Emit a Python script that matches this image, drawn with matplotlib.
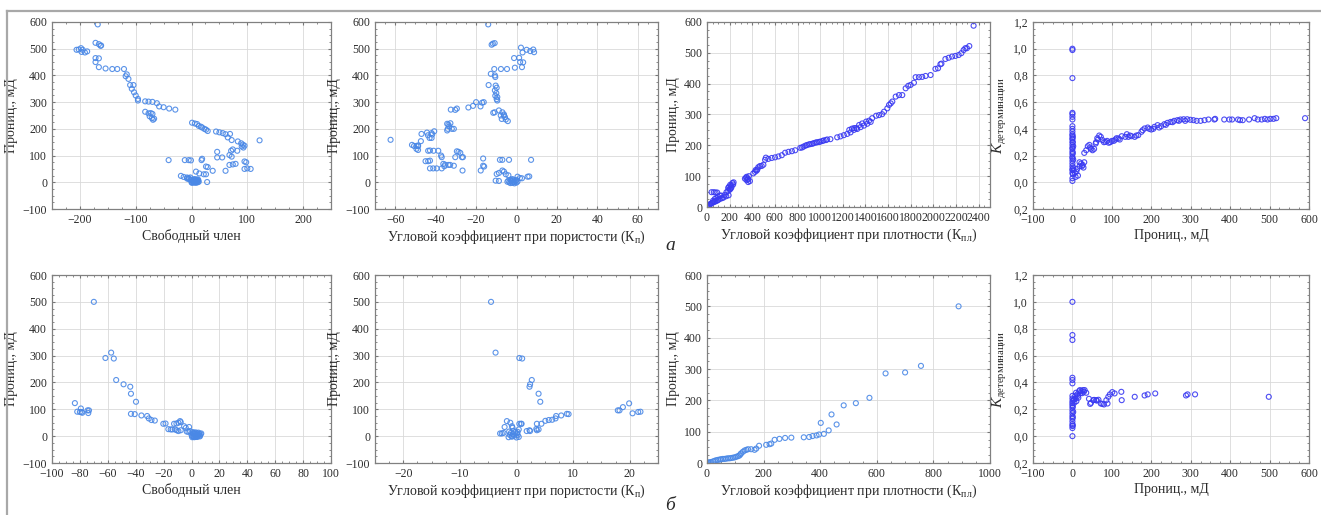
import numpy as np
import matplotlib
matplotlib.use('Agg')
import matplotlib.pyplot as plt
from matplotlib.lines import Line2D
from matplotlib.ticker import MultipleLocator, AutoMinorLocator, FuncFormatter

plt.rcParams['font.family'] = ['Liberation Serif', 'DejaVu Serif']
plt.rcParams['mathtext.fontset'] = 'custom'
plt.rcParams['mathtext.rm'] = 'Liberation Serif'
plt.rcParams['mathtext.it'] = 'Liberation Serif:italic'

# ---- data, row "а" ----
a1_pts = [(-168, 591), (-206, 496), (-198, 502), (-197, 488), (-202, 497), (-191, 486), (-187, 490),
          (-195, 496), (-172, 522), (-166, 517), (-162, 512), (-163, 511), (-172, 465), (-166, 464),
          (-172, 450), (-166, 431), (-154, 426), (-142, 424), (-133, 424), (-121, 424), (-116, 404),
          (-118, 397), (-113, 387), (-110, 364), (-104, 364), (-107, 350), (-103, 337), (-100, 325),
          (-96, 312), (-96, 306), (-83, 303), (-77, 302), (-70, 301), (-62, 296), (-58, 284), (-50, 281),
          (-40, 276), (-29, 272), (-83, 264), (-77, 258), (-73, 259), (-70, 256), (-75, 247), (-71, 240),
          (-69, 234), (-67, 238), (-41, 83), (-12, 83), (-5, 83), (-1, 82), (-19, 24), (-14, 20), (-8, 18),
          (-5, 16), (-2, 18), (1, 223), (6, 220), (10, 218), (13, 211), (17, 208), (19, 205), (23, 200),
          (26, 197), (29, 192), (44, 190), (50, 187), (56, 184), (61, 180), (65, 168), (69, 181), (72, 158),
          (83, 153), (89, 146), (92, 141), (95, 137), (122, 157), (46, 114), (46, 93), (55, 93), (68, 102),
          (72, 96), (82, 118), (71, 118), (74, 123), (95, 78), (98, 75), (100, 52), (95, 50), (106, 50),
          (19, 88), (18, 83), (26, 59), (29, 57), (38, 43), (61, 43), (68, 65), (74, 67), (79, 69), (8, 40),
          (14, 33), (22, 30), (26, 30), (28, 1), (0, 0), (1, -2), (2, 1), (3, 3), (4, -1), (5, 2), (6, 0),
          (7, 4), (8, -2), (9, 1), (10, 3), (11, 0), (12, 6), (13, 2), (2, 8), (4, 6), (6, 9), (8, 5),
          (10, 7), (12, 10), (5, 12), (9, 11), (-2, 10), (-5, 12), (-8, 14), (90, 134), (93, 130)]

a2_pts = [(-14, 591), (-12.3, 515), (-11.7, 519), (-10.8, 521), (2.2, 504), (5, 496), (6.8, 491),
          (8.3, 497), (8.7, 487), (3, 486), (-1.2, 465), (1.3, 466), (1.8, 450), (3.3, 449), (2.7, 431),
          (-0.8, 429), (-11, 424), (-7.7, 424), (-4.7, 424), (-12.7, 406), (-10.7, 400), (-10.5, 394),
          (-13.8, 364), (-10.3, 362), (-9.8, 354), (-10.7, 344), (-10, 334), (-10.5, 324), (-9.5, 319),
          (-9.8, 311), (-9.5, 306), (-11.5, 260), (-10.8, 262), (-8.7, 269), (-7, 262), (-7.8, 250),
          (-6.2, 250), (-7.3, 237), (-5.3, 235), (-6.2, 254), (-5.7, 244), (-4.3, 229), (-17.8, 284),
          (-16.2, 300), (-17, 298), (-20, 300), (-21.5, 286), (-23.8, 280), (-29.5, 276), (-30.3, 271),
          (-32.5, 272), (-34.3, 219), (-33.7, 216), (-34, 200), (-34.3, 194), (-32, 200), (-33.3, 209),
          (-31, 200), (-32.7, 221), (-44.3, 186), (-43.8, 176), (-43, 166), (-42, 166), (-40.7, 191),
          (-42, 184), (-41.7, 179), (-47, 181), (-48.7, 138), (-51.7, 140), (-50.7, 136), (-49.5, 136),
          (-48.7, 135), (-49.5, 125), (-48.7, 121), (-47.3, 154), (-62.3, 159), (-43.7, 118), (-42.8, 119),
          (-41, 118), (-38.7, 118), (-37.3, 100), (-37, 94), (-36.2, 69), (-35.3, 66), (-30.3, 94),
          (-29.5, 116), (-28.7, 114), (-27.8, 110), (-27, 94), (-26.5, 94), (-45, 79), (-43.7, 79),
          (-42.8, 81), (-42.8, 52), (-41.2, 52), (-39.5, 52), (-37, 52), (-35.7, 60), (-33.7, 65),
          (-32.8, 65), (-31, 62), (-26.7, 44), (-16.5, 89), (-16.5, 62), (-16, 59), (-17.7, 44),
          (-8.2, 84), (-7, 84), (-3.7, 84), (7.2, 84), (-10.3, 6), (-8.7, 5), (-9.8, 31), (-8.7, 35),
          (-7, 44), (-6.2, 40), (-5.3, 30), (-4, 26), (0.5, 21), (1.7, 16), (2.7, 15), (5.5, 21),
          (6.3, 22), (-4.5, 2), (-4, 6), (-3.5, 0), (-3, 10), (-2.5, 4), (-2, -2), (-1.5, 8), (-1, 1),
          (-0.5, 5), (0, -1), (0.5, 3), (-3, -3), (-2, 12), (-1, -4), (0, 9), (-2.5, 7), (-1.5, 2)]

a3_pts = [(0, 0), (5, 2), (10, 3), (15, 5), (20, 7), (29, 9), (35, 11), (44, 13), (55, 15), (65, 17),
          (74, 18), (85, 20), (95, 22), (103, 24), (120, 27), (135, 29), (147, 31), (170, 35), (191, 38),
          (40, 48), (60, 48), (75, 47), (90, 47), (53, 20), (68, 26), (83, 29), (98, 33), (113, 37),
          (127, 37), (157, 39), (172, 48), (187, 53), (201, 59), (216, 64), (231, 73), (216, 70),
          (201, 56), (187, 62), (195, 66), (205, 72), (225, 78), (235, 80), (210, 60), (335, 92),
          (350, 87), (364, 81), (379, 84), (350, 98), (364, 89), (345, 95), (370, 100), (360, 92),
          (409, 109), (424, 114), (439, 118), (453, 129), (468, 133), (483, 133), (498, 137), (430, 120),
          (445, 122), (513, 153), (520, 160), (542, 156), (572, 159), (601, 161), (631, 164), (661, 168),
          (690, 176), (720, 179), (750, 181), (779, 184), (824, 192), (853, 196), (883, 201), (913, 204),
          (942, 207), (972, 210), (1001, 212), (1031, 216), (1061, 219), (1090, 220), (840, 193),
          (870, 199), (900, 203), (930, 205), (960, 209), (990, 211), (1020, 214), (1050, 217),
          (1150, 226), (1179, 229), (1209, 233), (1239, 237), (1268, 242), (1298, 250), (1327, 253),
          (1357, 259), (1387, 264), (1416, 270), (1446, 276), (1257, 250), (1280, 254), (1300, 256),
          (1318, 256), (1344, 266), (1371, 271), (1406, 277), (1432, 280), (1459, 288), (1494, 296),
          (1520, 298), (1547, 301), (1564, 309), (1593, 320), (1608, 331), (1623, 336), (1637, 342),
          (1667, 358), (1696, 363), (1725, 363), (1755, 385), (1778, 393), (1799, 396), (1828, 403),
          (1843, 421), (1872, 421), (1901, 422), (1931, 425), (1975, 428), (2018, 448), (2041, 450),
          (2062, 463), (2071, 465), (2106, 480), (2135, 484), (2165, 488), (2194, 490), (2223, 493),
          (2247, 499), (2267, 509), (2282, 515), (2296, 515), (2317, 522), (2355, 588)]

a4_pts = [(0, 1.0), (0, 0.99), (0, 0.78), (0, 0.52), (0, 0.51), (0, 0.49), (0, 0.47), (0, 0.42),
          (0, 0.40), (0, 0.38), (0, 0.36), (0, 0.35), (0, 0.33), (0, 0.32), (0, 0.30), (0, 0.28),
          (0, 0.26), (0, 0.25), (0, 0.23), (0, 0.21), (0, 0.19), (0, 0.18), (0, 0.16), (0, 0.14),
          (0, 0.12), (0, 0.10), (0, 0.09), (0, 0.07), (0, 0.03), (0, 0.01), (1, 0.34), (1, 0.30),
          (2, 0.27), (1, 0.22), (2, 0.17), (2, 0.11), (1, 0.06), (3, 0.09), (6, 0.07), (10, 0.08),
          (14, 0.05), (18, 0.12), (22, 0.14), (26, 0.13), (18, 0.15), (30, 0.15), (12, 0.10), (8, 0.04),
          (24, 0.12), (28, 0.11), (30, 0.22), (35, 0.24), (39, 0.27), (43, 0.28), (47, 0.25), (51, 0.24),
          (55, 0.25), (59, 0.29), (63, 0.33), (68, 0.35), (72, 0.34), (65, 0.32), (60, 0.30), (45, 0.26),
          (76, 0.316), (84, 0.303), (92, 0.296), (100, 0.31), (109, 0.32), (117, 0.328), (125, 0.345),
          (134, 0.34), (142, 0.34), (150, 0.345), (158, 0.34), (167, 0.353), (175, 0.378), (183, 0.403),
          (191, 0.41), (200, 0.395), (208, 0.415), (216, 0.428), (225, 0.42), (233, 0.435), (241, 0.445),
          (249, 0.452), (258, 0.46), (266, 0.465), (274, 0.47), (282, 0.472), (291, 0.472), (299, 0.468),
          (307, 0.465), (315, 0.46), (80, 0.30), (88, 0.31), (96, 0.30), (105, 0.31), (112, 0.33),
          (120, 0.32), (138, 0.36), (146, 0.35), (162, 0.35), (178, 0.39), (195, 0.40), (205, 0.40),
          (220, 0.41), (237, 0.43), (254, 0.45), (270, 0.46), (286, 0.46), (325, 0.46), (335, 0.465),
          (345, 0.47), (360, 0.47), (362, 0.475), (385, 0.47), (398, 0.47), (405, 0.47), (420, 0.47),
          (425, 0.465), (432, 0.465), (448, 0.47), (462, 0.48), (470, 0.47), (480, 0.47), (488, 0.475),
          (495, 0.47), (502, 0.475), (510, 0.475), (517, 0.48), (590, 0.48)]

# ---- data, row "б" ----
b1_pts = [(-70, 500), (-61.7, 291), (-57.6, 311), (-55.7, 289), (-54, 209), (-48.7, 193), (-43.9, 184),
          (-43.4, 158), (-39.8, 128), (-83.6, 123), (-81.9, 91), (-80, 90), (-78.8, 90), (-79.3, 103),
          (-78.3, 87), (-74.5, 96), (-74, 86), (-73.5, 96), (-43.4, 83), (-40.7, 82), (-35.9, 77),
          (-31.8, 75), (-30.6, 66), (-28.7, 60), (-26.3, 58), (-20.2, 46), (-18.6, 47), (-16.6, 26),
          (-14.9, 25), (-13.7, 25), (-11.8, 25), (-10.6, 22), (-9.4, 19), (-7.7, 22), (-12.5, 46),
          (-10.8, 47), (-9.4, 50), (-8.2, 56), (-7.7, 52), (-5.3, 37), (-4.1, 31), (-1.7, 34), (-1.2, 19),
          (-3.4, 17), (-2.2, 16), (0, 5), (0.5, 0), (1, 10), (1.5, -2), (2, 3), (2.5, 8), (3, -3),
          (3.5, 1), (4, 6), (4.5, -1), (5, 4), (5.5, 9), (6, 2), (6.5, 7), (7, 10), (1, 15), (2, 12),
          (3, 14), (4, 11), (5, 13), (0.5, -4), (2, -4), (4, -3), (6, -1)]

b2_pts = [(-4.5, 500), (-3.7, 311), (0.5, 291), (1.0, 289), (2.7, 209), (2.4, 193), (2.3, 184),
          (3.9, 158), (4.2, 128), (-1.7, 56), (-1.1, 50), (-2.1, 34), (-2.3, 12), (-2.6, 10), (-2.9, 10),
          (-0.8, 37), (-0.7, 31), (0.5, 46), (0.8, 46), (0.9, 46), (0.4, 25), (0.2, 16), (1.8, 19),
          (2.3, 22), (2.4, 19), (3.6, 22), (3.9, 25), (3.5, 27), (3.6, 46), (4.4, 46), (5.1, 57),
          (5.7, 60), (6.3, 61), (6.9, 66), (7.0, 75), (7.9, 77), (8.9, 83), (9.2, 82), (17.9, 96),
          (18.2, 96), (18.8, 108), (19.9, 122), (20.5, 85), (21.5, 90), (21.9, 91), (-1.4, -4),
          (-1.2, 5), (-1.0, 12), (-0.8, -2), (-0.6, 8), (-0.4, 2), (-0.2, 15), (0, -5), (0.2, 4),
          (0.4, -3), (-1.3, 17), (-0.5, 19), (-0.9, 0), (0.1, 10)]

b3_pts = [(0, 0), (3, 1), (6, 1), (9, 2), (14, 3), (21, 5), (27, 7), (33, 9), (39, 10), (45, 11),
          (50, 12), (56, 13), (62, 13), (68, 14), (74, 15), (80, 15), (86, 16), (92, 17), (98, 18),
          (104, 20), (110, 22), (115, 24), (118, 28), (121, 31), (127, 36), (133, 40), (139, 42),
          (145, 44), (156, 44), (168, 42), (174, 46), (184, 55), (209, 58), (221, 60), (227, 62),
          (239, 74), (256, 77), (276, 80), (298, 81), (342, 82), (361, 83), (373, 86), (387, 88),
          (396, 91), (413, 93), (430, 104), (402, 128), (440, 155), (458, 123), (483, 184), (526, 191),
          (574, 208), (631, 286), (700, 289), (756, 310), (889, 500)]

b4_pts = [(0, 1.0), (0, 0.753), (0, 0.716), (0, 0.435), (0, 0.418), (0, 0.393), (0, 0.30), (0, 0.28),
          (0, 0.26), (0, 0.245), (0, 0.23), (0, 0.21), (0, 0.19), (0, 0.17), (0, 0.15), (0, 0.13),
          (0, 0.11), (0, 0.09), (0, 0.075), (0, 0.06), (0, 0.0), (1, 0.08), (1, 0.22), (2, 0.27),
          (2, 0.18), (1, 0.14), (4, 0.273), (7, 0.298), (9, 0.323), (12, 0.311), (15, 0.286),
          (17, 0.335), (19, 0.343), (23, 0.335), (27, 0.343), (31, 0.343), (35, 0.323), (5, 0.25),
          (8, 0.28), (10, 0.26), (14, 0.30), (20, 0.32), (25, 0.32), (29, 0.33), (42, 0.278),
          (47, 0.248), (53, 0.268), (60, 0.268), (66, 0.271), (72, 0.243), (80, 0.236), (89, 0.243),
          (86, 0.268), (91, 0.293), (95, 0.311), (101, 0.328), (107, 0.318), (124, 0.33), (125, 0.268),
          (158, 0.293), (183, 0.303), (191, 0.311), (210, 0.318), (288, 0.303), (292, 0.311),
          (311, 0.311), (498, 0.293), (45, 0.24), (55, 0.27), (62, 0.265), (76, 0.24)]

perm_label = 'Прониц., мД'
k_label = r'$K_{\mathrm{детерминации}}$'
x_labels = ['Свободный член',
            'Угловой коэффициент при пористости (К$_{\\mathrm{п}}$)',
            'Угловой коэффициент при плотности (К$_{\\mathrm{пл}}$)',
            perm_label]

W, H = 1321, 515
fig = plt.figure(figsize=(W / 100, H / 100), dpi=100)

light = '#4a88e6'
deep = '#3a3af2'
txt = '#2b2b2b'


def make_ax(l, t, r, b):
    return fig.add_axes([l / W, 1 - b / H, (r - l) / W, (b - t) / H])


def style(ax, xlim, ylim, xstep, ystep, xlabel, ylabel, kfmt=False):
    ax.set_xlim(*xlim)
    ax.set_ylim(*ylim)
    ax.xaxis.set_major_locator(MultipleLocator(xstep))
    ax.yaxis.set_major_locator(MultipleLocator(ystep))
    ax.xaxis.set_minor_locator(AutoMinorLocator(4))
    ax.yaxis.set_minor_locator(AutoMinorLocator(4))
    ax.grid(True, which='major', color='#d9d9d9', lw=0.6)
    ax.set_axisbelow(True)
    ax.tick_params(which='both', direction='in', top=True, right=True, colors='#777777',
                   labelcolor=txt, labelsize=8.5)
    ax.tick_params(which='major', length=2.5)
    ax.tick_params(which='minor', length=1.5)
    for s in ax.spines.values():
        s.set_color('#808080')
        s.set_linewidth(0.9)
    ax.set_xlabel(xlabel, fontsize=10, color=txt, labelpad=2)
    if kfmt:
        ax.yaxis.set_major_formatter(FuncFormatter(lambda v, p: f'{abs(v):.1f}'.replace('.', ',')))
        ax.set_ylabel(ylabel, fontsize=11, color=txt, labelpad=3)
    else:
        ax.set_ylabel(ylabel, fontsize=10, color=txt, labelpad=3)


def scatter(ax, pts, color):
    x, y = np.array(pts, dtype=float).T
    ax.scatter(x, y, s=13, facecolors='none', edgecolors=color, linewidths=0.8, alpha=0.9)


cols = [(52, 331), (375, 658), (707, 990), (1033, 1309)]
rows = [(22, 209), (275, 463)]

# row а
ax = make_ax(cols[0][0], rows[0][0], cols[0][1], rows[0][1])
scatter(ax, a1_pts, light)
style(ax, (-250, 250), (-100, 600), 100, 100, x_labels[0], perm_label)

ax = make_ax(cols[1][0], rows[0][0], cols[1][1], rows[0][1])
scatter(ax, a2_pts, light)
style(ax, (-70, 70), (-100, 600), 20, 100, x_labels[1], perm_label)

ax = make_ax(cols[2][0], rows[0][0], cols[2][1], rows[0][1] - 2)
scatter(ax, a3_pts, deep)
style(ax, (0, 2500), (0, 600), 200, 100, x_labels[2], perm_label)

ax = make_ax(cols[3][0], rows[0][0], cols[3][1], rows[0][1])
scatter(ax, a4_pts, deep)
style(ax, (-100, 600), (-0.2, 1.2), 100, 0.2, x_labels[3], k_label, kfmt=True)

# row б
ax = make_ax(cols[0][0], rows[1][0], cols[0][1], rows[1][1])
scatter(ax, b1_pts, light)
style(ax, (-100, 100), (-100, 600), 20, 100, x_labels[0], perm_label)

ax = make_ax(cols[1][0], rows[1][0], cols[1][1], rows[1][1])
scatter(ax, b2_pts, light)
style(ax, (-25, 25), (-100, 600), 10, 100, x_labels[1], perm_label)

ax = make_ax(cols[2][0], rows[1][0], cols[2][1], rows[1][1])
scatter(ax, b3_pts, light)
style(ax, (0, 1000), (0, 600), 200, 100, x_labels[2], perm_label)

ax = make_ax(cols[3][0], rows[1][0], cols[3][1], rows[1][1])
scatter(ax, b4_pts, deep)
style(ax, (-100, 600), (-0.2, 1.2), 100, 0.2, x_labels[3], k_label, kfmt=True)

# panel letters
fig.text(670 / W, 1 - 246 / H, 'а', fontsize=14, style='italic', ha='center', va='center', color=txt)
fig.text(670 / W, 1 - 506 / H, 'б', fontsize=14, style='italic', ha='center', va='center', color=txt)

# page frame
fig.add_artist(Line2D([7 / W, 1], [1 - 11 / H, 1 - 11 / H], transform=fig.transFigure, color='#a8a8a8', lw=1.6))
fig.add_artist(Line2D([7 / W, 7 / W], [1 - 11 / H, 0], transform=fig.transFigure, color='#a8a8a8', lw=1.6))

fig.savefig('out.png', dpi=100)
